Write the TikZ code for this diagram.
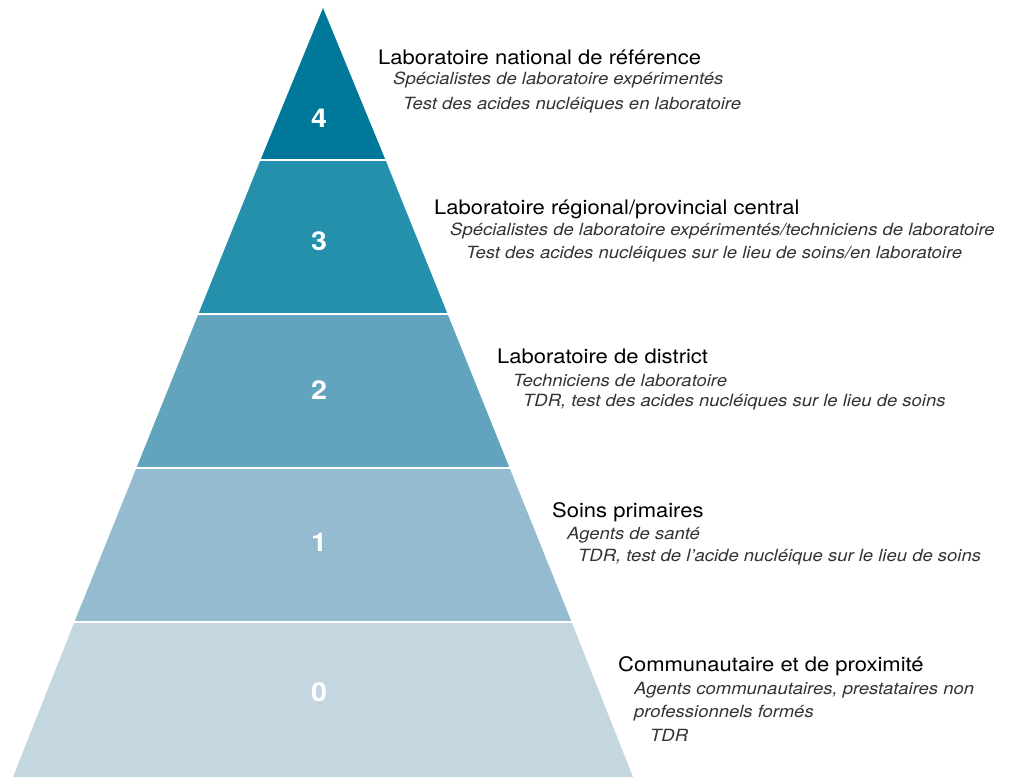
\documentclass[tikz,border=0pt]{standalone}
\usepackage{fontspec}
\setmainfont{TeX Gyre Heros}[FakeStretch=1.1]
\definecolor{lvfour}{HTML}{00789A}
\definecolor{lvthree}{HTML}{2590AC}
\definecolor{lvtwo}{HTML}{62A4BE}
\definecolor{lvone}{HTML}{94BBCF}
\definecolor{lvzero}{HTML}{C4D7E1}
\definecolor{subgray}{HTML}{333333}
\begin{document}
\begin{tikzpicture}[x=1pt,y=-1pt,
  title/.style={anchor=west,inner sep=0pt,font=\fontsize{20}{23}\selectfont,text=black},
  sub/.style={anchor=west,inner sep=0pt,font=\fontsize{16.8}{23}\selectfont\itshape,text=subgray,align=left},
  num/.style={inner sep=0pt,font=\fontsize{26}{30}\selectfont\bfseries,text=white},
  sep/.style={white,line width=2pt}]
\useasboundingbox (0,0) rectangle (1015,777);
% pyramid corners
\coordinate (apex) at (323,8);
% bands (slope 0.403 px per px)
\fill[lvzero] (13,777) -- (633,777) -- (571.6,622) -- (74.4,622) -- cycle;
\fill[lvone] (74.4,622) -- (571.6,622) -- (509.6,468) -- (136.4,468) -- cycle;
\fill[lvtwo] (136.4,468) -- (509.6,468) -- (447.6,314) -- (198.4,314) -- cycle;
\fill[lvthree] (198.4,314) -- (447.6,314) -- (385.5,160) -- (260.5,160) -- cycle;
\fill[lvfour] (260.5,160) -- (385.5,160) -- (apex) -- cycle;
\draw[sep] (60,622) -- (590,622);
\draw[sep] (120,468) -- (525,468);
\draw[sep] (185,314) -- (460,314);
\draw[sep] (245,160) -- (400,160);
% numbers
\node[num] (n4) at (319,118) {4};
\node[num] (n3) at (319,241) {3};
\node[num] (n2) at (319,390) {2};
\node[num] (n1) at (319,542) {1};
\node[num] (n0) at (319,692) {0};
% level 4
\node[title] (t4) at (378,57) {Laboratoire national de référence};
\node[sub] (s4a) at (393,80) {Spécialistes de laboratoire expérimentés};
\node[sub] (s4b) at (403,105) {Test des acides nucléiques en laboratoire};
% level 3
\node[title] (t3) at (434,209) {Laboratoire régional/provincial central};
\node[sub] (s3a) at (450,231) {Spécialistes de laboratoire expérimentés/techniciens de laboratoire};
\node[sub] (s3b) at (466,254) {Test des acides nucléiques sur le lieu de soins/en laboratoire};
% level 2
\node[title] (t2) at (497,356) {Laboratoire de district};
\node[sub] (s2a) at (513,380) {Techniciens de laboratoire};
\node[sub] (s2b) at (523,402) {TDR, test des acides nucléiques sur le lieu de soins};
% level 1
\node[title] (t1) at (552,512) {Soins primaires};
\node[sub] (s1a) at (567,535) {Agents de santé};
\node[sub] (s1b) at (578,557) {TDR, test de l’acide nucléique sur le lieu de soins};
% level 0
\node[title] (t0) at (618,666) {Communautaire et de proximité};
\node[sub] (s0a) at (634,690) {Agents communautaires, prestataires non};
\node[sub] (s0c) at (634,713) {professionnels formés};
\node[sub] (s0b) at (650,735) {TDR};
\end{tikzpicture}
\end{document}
